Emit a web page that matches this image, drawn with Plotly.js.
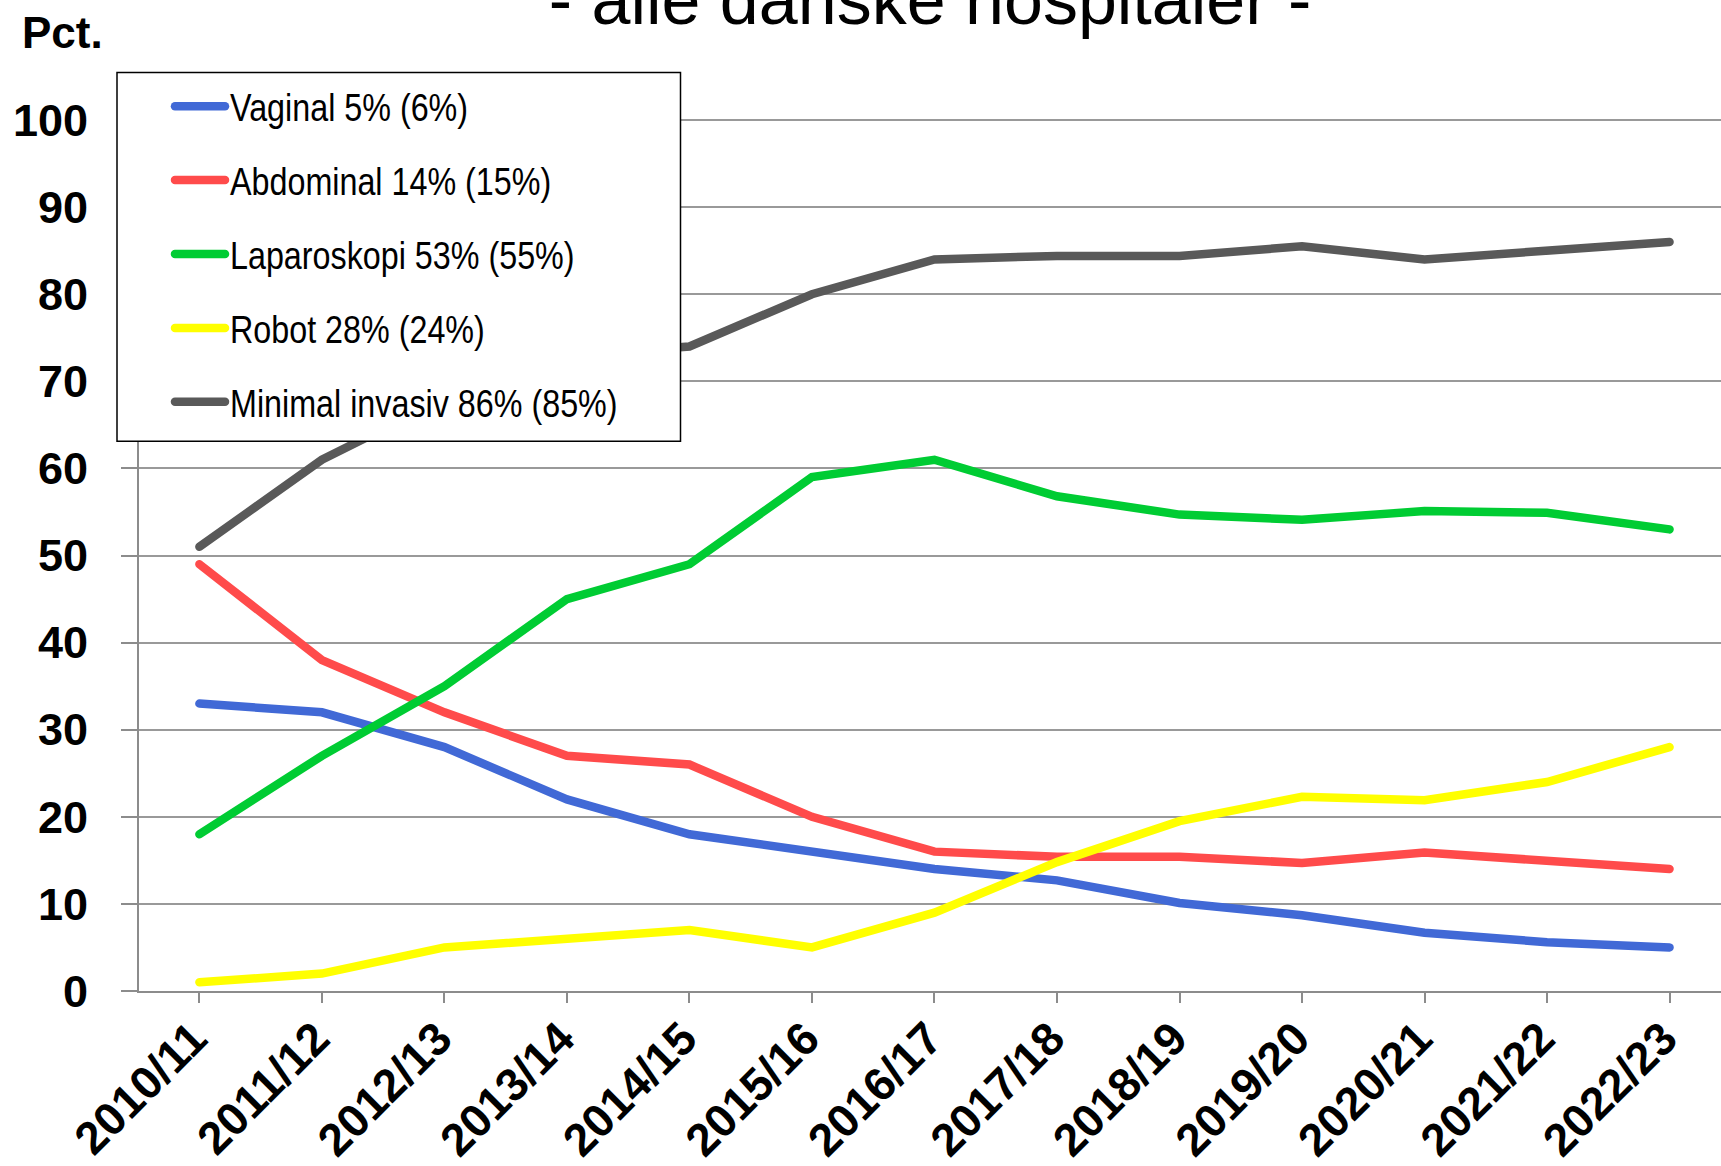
<!DOCTYPE html>
<html>
<head>
<meta charset="utf-8">
<script src="https://cdn.plot.ly/plotly-3.0.1.min.js"></script>
<style>
  html, body { margin: 0; padding: 0; background: #fff; }
  #chart { width: 1721px; height: 1166px; }
  .scatterlayer path.js-line { stroke-linecap: round; }
  .legendlines path { stroke-linecap: round; }
  .legend .legendtext { transform-box: fill-box; transform-origin: 0% 50%; transform: scaleX(0.85); }
</style>
</head>
<body>
<div id="chart"></div>
<script>
const years = ["2010/11","2011/12","2012/13","2013/14","2014/15","2015/16","2016/17","2017/18","2018/19","2019/20","2020/21","2021/22","2022/23"];
const seriesNames = ["Vaginal 5% (6%)","Abdominal 14% (15%)","Laparoskopi 53% (55%)","Robot 28% (24%)","Minimal invasiv 86% (85%)"];
const vaginal = [33, 32, 28, 22, 18, 16, 14, 12.7, 10.1, 8.7, 6.7, 5.6, 5];
const abdominal = [49, 38, 32, 27, 26, 20, 16, 15.4, 15.4, 14.7, 15.9, 14.9, 14];
const laparoskopi = [18, 27, 35, 45, 49, 59, 61, 56.8, 54.7, 54.1, 55.1, 54.9, 53];
const robot = [1, 2, 5, 6, 7, 5, 9, 14.8, 19.5, 22.3, 21.9, 24, 28];
const minimalInvasiv = [51, 61, 68, 73, 74, 80, 84, 84.4, 84.4, 85.5, 84, 85, 86];
const yTicks = [0,10,20,30,40,50,60,70,80,90,100];
const colors = ["#4169D6","#FF4B4B","#00CC33","#FFFF00","#595959"];

const seriesValues = [vaginal, abdominal, laparoskopi, robot, minimalInvasiv];
const traces = seriesValues.map((vals, i) => ({
  type: 'scatter',
  mode: 'lines',
  x: years,
  y: vals,
  name: seriesNames[i],
  legendgroup: 'g' + i,
  line: { color: colors[i], width: 8.5 },
  hoverinfo: 'x+y+name'
}));

const W = 1721, H = 1166;
const L = 139, T = 117, B = 175;
const plotW = W - L, plotH = H - T - B;
const px2paperX = (x) => (x - L) / plotW;
const px2paperY = (y) => (H - B - y) / plotH;

const layout = {
  width: W,
  height: H,
  paper_bgcolor: '#ffffff',
  plot_bgcolor: '#ffffff',
  margin: { l: L, r: 0, t: T, b: B, pad: 0, autoexpand: false },
  title: {
    text: '- alle danske hospitaler -',
    font: { family: 'Liberation Sans, Arial, sans-serif', size: 70, color: '#000' },
    xref: 'container', yref: 'container',
    x: 930 / W, xanchor: 'center',
    y: 1 - 24 / H, yanchor: 'bottom'
  },
  showlegend: true,
  legend: {
    xref: 'container', yref: 'container',
    x: 117 / W, y: 1 - 75 / H,
    xanchor: 'left', yanchor: 'top',
    bgcolor: 'rgba(255,255,255,0)',
    borderwidth: 0,
    font: { family: 'Liberation Sans, Arial, sans-serif', size: 38, color: '#000' },
    itemwidth: 50,
    indentation: 53,
    tracegroupgap: 21.5,
    traceorder: 'grouped'
  },
  shapes: [{
    type: 'rect',
    xref: 'paper', yref: 'paper',
    x0: px2paperX(117), x1: px2paperX(680.5),
    y0: px2paperY(441.2), y1: px2paperY(72.4),
    line: { color: '#000000', width: 1.5 },
    fillcolor: '#ffffff',
    layer: 'above'
  }],
  xaxis: {
    type: 'category',
    range: [-0.493, 12.42],
    automargin: false,
    showgrid: false,
    zeroline: false,
    showline: true,
    linecolor: '#8c8c8c',
    linewidth: 2,
    ticks: 'outside',
    ticklen: 10,
    tickwidth: 1.5,
    tickcolor: '#8c8c8c',
    tickangle: -45,
    ticklabelstandoff: -10,
    ticklabelshift: -6,
    tickfont: { family: 'Liberation Sans, Arial, sans-serif', size: 46, color: '#000', weight: 'bold' },
    fixedrange: true
  },
  yaxis: {
    range: [0, 100.35],
    automargin: false,
    tickvals: yTicks,
    ticktext: yTicks.map(String),
    showgrid: true,
    gridcolor: '#999999',
    gridwidth: 2,
    zeroline: false,
    showline: true,
    linecolor: '#8c8c8c',
    linewidth: 2,
    ticks: 'outside',
    ticklen: 16,
    tickwidth: 1.5,
    tickcolor: '#8c8c8c',
    ticklabelstandoff: 24,
    tickfont: { family: 'Liberation Sans, Arial, sans-serif', size: 45, color: '#000', weight: 'bold' },
    fixedrange: true
  },
  annotations: [{
    text: '<b>Pct.</b>',
    xref: 'paper', yref: 'paper',
    x: px2paperX(20), xanchor: 'left',
    y: px2paperY(32), yanchor: 'middle',
    showarrow: false,
    font: { family: 'Liberation Sans, Arial, sans-serif', size: 44, color: '#000' }
  }],
  hovermode: 'closest'
};

Plotly.newPlot('chart', traces, layout, { displayModeBar: false, staticPlot: false });
</script>
</body>
</html>
